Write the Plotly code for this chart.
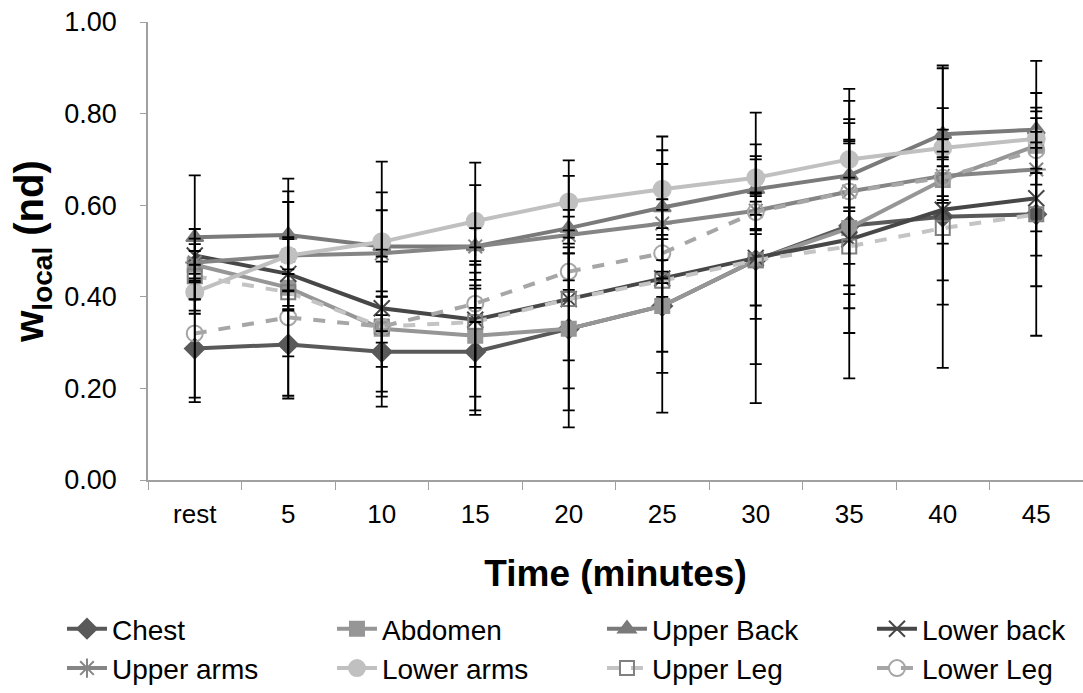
import plotly.graph_objects as go

categories = ["rest", "5", "10", "15", "20", "25", "30", "35", "40", "45"]

chest = [0.287, 0.296, 0.280, 0.280, 0.330, 0.380, 0.480, 0.555, 0.575, 0.580]
abdomen = [0.470, 0.420, 0.330, 0.315, 0.330, 0.380, 0.480, 0.550, 0.655, 0.730]
upper_back = [0.530, 0.535, 0.510, 0.510, 0.550, 0.595, 0.635, 0.665, 0.755, 0.765]
lower_back = [0.490, 0.450, 0.375, 0.350, 0.395, 0.440, 0.485, 0.525, 0.590, 0.615]
upper_arms = [0.475, 0.490, 0.495, 0.510, 0.535, 0.560, 0.588, 0.630, 0.664, 0.678]
lower_arms = [0.410, 0.490, 0.520, 0.565, 0.607, 0.635, 0.660, 0.700, 0.725, 0.745]
upper_leg = [0.445, 0.410, 0.335, 0.345, 0.395, 0.435, 0.480, 0.510, 0.550, 0.580]
lower_leg = [0.320, 0.355, 0.335, 0.385, 0.455, 0.495, 0.585, 0.630, 0.660, 0.720]

chest_sd = [0.107, 0.118, 0.120, 0.138, 0.215, 0.233, 0.227, 0.180, 0.330, 0.157]
abdomen_sd = [0.030, 0.040, 0.030, 0.163, 0.178, 0.146, 0.128, 0.229, 0.050, 0.060]
upper_back_sd = [0.135, 0.123, 0.185, 0.134, 0.114, 0.155, 0.098, 0.078, 0.144, 0.040]
lower_back_sd = [0.058, 0.180, 0.128, 0.103, 0.195, 0.040, 0.317, 0.303, 0.154, 0.300]
upper_arms_sd = [0.040, 0.040, 0.094, 0.040, 0.040, 0.130, 0.040, 0.158, 0.148, 0.135]
lower_arms_sd = [0.040, 0.117, 0.108, 0.128, 0.091, 0.085, 0.040, 0.040, 0.040, 0.100]
upper_leg_sd = [0.082, 0.040, 0.142, 0.163, 0.134, 0.155, 0.099, 0.085, 0.167, 0.090]
lower_leg_sd = [0.150, 0.171, 0.153, 0.040, 0.040, 0.040, 0.040, 0.224, 0.040, 0.040]

y_ticks = [0.0, 0.2, 0.4, 0.6, 0.8, 1.0]
y_tick_labels = ["0.00", "0.20", "0.40", "0.60", "0.80", "1.00"]

series = [
    ("Chest", chest, chest_sd, "#595959", "solid", "diamond", 15, "#595959", None),
    ("Abdomen", abdomen, abdomen_sd, "#969696", "solid", "square", 14, "#969696", None),
    ("Upper Back", upper_back, upper_back_sd, "#7a7a7a", "solid", "triangle-up", 15, "#7a7a7a", None),
    ("Lower back", lower_back, lower_back_sd, "#474747", "solid", "x-thin-open", 16, "#474747", 150),
    ("Upper arms", upper_arms, upper_arms_sd, "#858585", "solid", "asterisk-open", 16, "#858585", None),
    ("Lower arms", lower_arms, lower_arms_sd, "#c0c0c0", "solid", "circle", 17, "#c0c0c0", None),
    ("Upper Leg", upper_leg, upper_leg_sd, "#c4c4c4", "dash", "square-open", 14, "#808080", None),
    ("Lower Leg", lower_leg, lower_leg_sd, "#a6a6a6", "dash", "circle-open", 16, "#a6a6a6", 150),
]

fig = go.Figure()

for name, vals, sd, col, dash, sym, size, mcol, lw in series:
    kw = {}
    if lw is not None:
        kw["legendwidth"] = lw
    fig.add_trace(go.Scatter(
        x=categories, y=vals, name=name, mode="lines+markers",
        line=dict(color=col, width=4, dash=dash),
        marker=dict(symbol=sym, size=size, color=mcol,
                    line=dict(color=mcol, width=2)),
        **kw,
    ))

# error bars drawn on top of all series
for name, vals, sd, col, dash, sym, size, mcol, lw in series:
    fig.add_trace(go.Scatter(
        x=categories, y=vals, mode="markers", showlegend=False,
        marker=dict(size=1, opacity=0),
        error_y=dict(type="data", array=sd, visible=True,
                     color="black", thickness=1.8, width=6),
        hoverinfo="skip",
    ))

fig.update_layout(
    width=1083, height=693,
    margin=dict(l=148, r=0, t=22, b=211),
    paper_bgcolor="white", plot_bgcolor="white",
    font=dict(family="Liberation Sans, Arial, sans-serif", color="black"),
    showlegend=True,
    legend=dict(
        orientation="h", x=-0.092, y=-0.272, xanchor="left", yanchor="top",
        font=dict(size=28, color="black"),
        entrywidth=215, entrywidthmode="pixels",
        itemwidth=40, traceorder="normal",
    ),
)

fig.update_xaxes(
    type="category", categoryorder="array", categoryarray=categories,
    range=[-0.5, 9.5],
    showline=True, linecolor="#a0a0a0", linewidth=1.5,
    ticks="outside", tickson="boundaries", ticklen=8, tickcolor="#a0a0a0",
    tickfont=dict(size=26, color="black"), ticklabelstandoff=10,
    showgrid=False, zeroline=False,
    title=dict(text="<b>Time (minutes)</b>", font=dict(size=37, color="black"), standoff=32),
)

fig.update_yaxes(
    range=[0, 1], tickvals=y_ticks, ticktext=y_tick_labels,
    showline=True, linecolor="#a0a0a0", linewidth=1.5,
    ticks="outside", ticklen=6, tickcolor="#a0a0a0",
    tickfont=dict(size=27, color="black"), ticklabelstandoff=18,
    showgrid=False, zeroline=False,
    title=dict(text="<b>w<sub>local</sub> (nd)</b>", font=dict(size=40, color="black"), standoff=8),
)

fig.write_html("out.html")
